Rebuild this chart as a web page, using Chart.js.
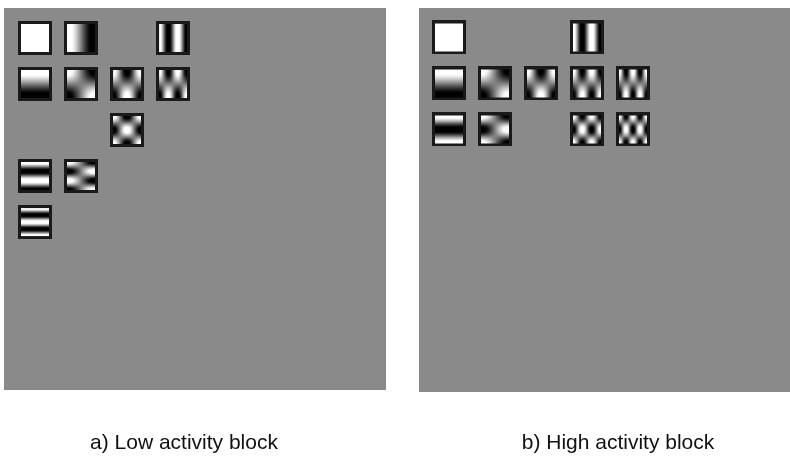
<!DOCTYPE html>
<html>
<head>
<meta charset="utf-8">
<script src="https://cdn.jsdelivr.net/npm/chart.js@4/dist/chart.umd.min.js"></script>
<style>
    html, body { margin: 0; padding: 0; background: #ffffff; }
    body { width: 790px; height: 456px; overflow: hidden; position: relative; }
    canvas { position: absolute; top: 0; }
    #low-chart { left: -18px; }
    #high-chart { left: 419px; }
</style>
</head>
<body>
<canvas id="low-chart" width="404" height="456"></canvas>
<canvas id="high-chart" width="398" height="456"></canvas>
<script>
// DCT coefficients kept in each block (column = horizontal frequency, row = vertical frequency)
const lowCols = [0, 1, 3, 0, 1, 2, 3, 2, 0, 1, 0];
const lowRows = [0, 0, 0, 1, 1, 1, 1, 2, 3, 3, 4];
const highCols = [0, 3, 0, 1, 2, 3, 4, 0, 1, 3, 4];
const highRows = [0, 0, 1, 1, 1, 1, 1, 2, 2, 2, 2];
const lowLabel = 'a) Low activity block';
const highLabel = 'b) High activity block';

const TILE = 34;
const BORDER = 3;

// Draw one DCT basis image as a small canvas, used as point style
const makeTile = (u, v) => {
    const c = document.createElement('canvas');
    c.width = TILE;
    c.height = TILE;
    const ctx = c.getContext('2d');
    ctx.fillStyle = '#1a1a1a';
    ctx.fillRect(0, 0, TILE, TILE);
    const n = TILE - 2 * BORDER;
    const img = ctx.createImageData(n, n);
    for (let py = 0; py < n; py++) {
        for (let px = 0; px < n; px++) {
            const tx = (px + 0.5) / n * 8;
            const ty = (py + 0.5) / n * 8;
            const val = Math.cos(Math.PI * u * tx / 8) * Math.cos(Math.PI * v * ty / 8);
            const g = Math.max(0, Math.min(255, Math.round(128 + 150 * val)));
            const i = (py * n + px) * 4;
            img.data[i] = g;
            img.data[i + 1] = g;
            img.data[i + 2] = g;
            img.data[i + 3] = 255;
        }
    }
    ctx.putImageData(img, BORDER, BORDER);
    return c;
};

// Gray block background drawn in scale units
const panelPlugin = {
    id: 'panel',
    beforeDraw: (chart, args, opts) => {
        const { ctx, scales } = chart;
        const x0 = scales.x.getPixelForValue(opts.xMin);
        const x1 = scales.x.getPixelForValue(opts.xMax);
        const y0 = scales.y.getPixelForValue(opts.yMin);
        const y1 = scales.y.getPixelForValue(opts.yMax);
        ctx.save();
        ctx.fillStyle = opts.color;
        ctx.fillRect(Math.min(x0, x1), Math.min(y0, y1), Math.abs(x1 - x0), Math.abs(y1 - y0));
        ctx.restore();
    }
};

const createBlockChart = (canvasId, cols, rows, label, xRange, yRange, panel, titlePad) => {
    const ctx = document.getElementById(canvasId).getContext('2d');
    const points = cols.map((c, i) => ({ x: c, y: rows[i] }));
    const tiles = points.map((p) => makeTile(p.x, p.y));

    new Chart(ctx, {
        type: 'scatter',
        data: {
            datasets: [{
                data: points,
                pointStyle: (c) => tiles[c.dataIndex],
                pointRadius: TILE / 2,
                borderWidth: 0
            }]
        },
        options: {
            responsive: false,
            animation: false,
            events: [],
            layout: { autoPadding: false, padding: { top: 8, left: 0, right: 0, bottom: 0 } },
            scales: {
                x: { type: 'linear', min: xRange[0], max: xRange[1], display: false },
                y: { type: 'linear', min: yRange[0], max: yRange[1], reverse: true, display: false }
            },
            plugins: {
                legend: { display: false },
                tooltip: { enabled: false },
                title: {
                    display: true,
                    position: 'bottom',
                    text: label,
                    color: '#111111',
                    font: { family: '"Liberation Sans", Arial, sans-serif', size: 21, weight: 'normal', lineHeight: 1.2 },
                    padding: { top: titlePad, bottom: 0 }
                },
                panel: panel
            }
        },
        plugins: [panelPlugin]
    });
};

createBlockChart('low-chart', lowCols, lowRows, lowLabel,
    [-1.152, 7.63], [-0.652, 7.652],
    { xMin: -0.674, xMax: 7.63, yMin: -0.652, yMax: 7.652, color: '#8a8a8a' }, 40.8);

createBlockChart('high-chart', highCols, highRows, highLabel,
    [-0.652, 8.0], [-0.641, 7.71],
    { xMin: -0.652, xMax: 8.0, yMin: -0.641, yMax: 7.71, color: '#8a8a8a' }, 38.8);
</script>
</body>
</html>
